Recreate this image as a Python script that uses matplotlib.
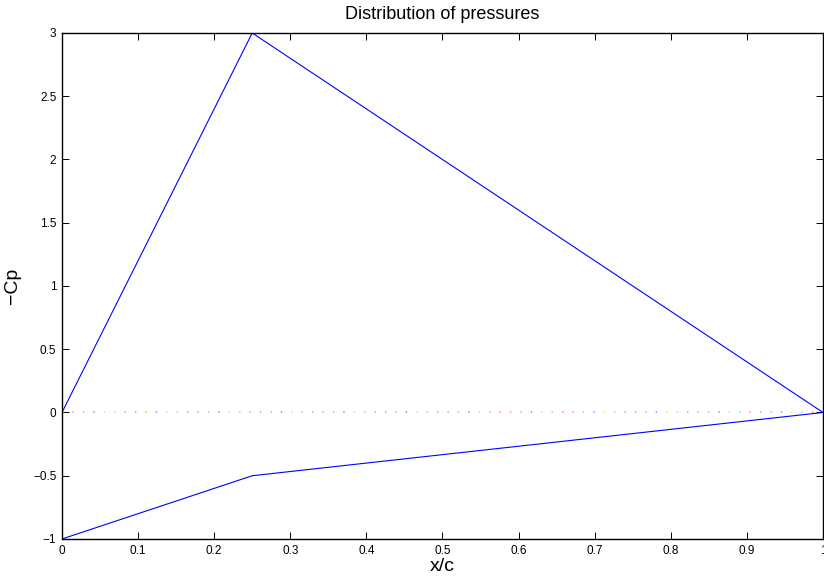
import matplotlib
matplotlib.use("Agg")
import matplotlib.pyplot as plt

# pressure distribution (upper then lower surface, closed loop)
x_c = [0.0, 0.25, 1.0, 0.25, 0.0]
minus_cp = [0.0, 3.0, 0.0, -0.5, -1.0]

# chord line at -Cp = 0
chord_x = [0.0, 1.0]
chord_y = [0.0, 0.0]

xticks = [0, 0.1, 0.2, 0.3, 0.4, 0.5, 0.6, 0.7, 0.8, 0.9, 1]
yticks = [-1, -0.5, 0, 0.5, 1, 1.5, 2, 2.5, 3]
ytick_labels = ["\u22121", "\u22120.5", "0", "0.5", "1", "1.5", "2", "2.5", "3"]

plt.rcParams["font.family"] = ["Liberation Sans", "DejaVu Sans"]

fig = plt.figure(figsize=(8.24, 5.83), dpi=100)
ax = fig.add_axes([0.0752, 0.0755, 0.9236, 0.8679])

# faint multicoloured dotted chord line
dot_colors = ["#ff9999", "#99e0e0", "#e0e099", "#9999ff", "#99e099", "#e099e0"]
for k, c in enumerate(dot_colors):
    ax.plot(chord_x, chord_y, color=c, lw=1.3,
            linestyle=(k * 7.5 / 1.3, (1 / 1.3, (6 * 7.5 - 1) / 1.3)))

ax.plot(x_c, minus_cp, color="#0000ff", lw=0.8)

ax.set_xlim(0, 1)
ax.set_ylim(-1, 3)
ax.set_xticks(xticks)
ax.set_xticklabels([f"{t:g}" for t in xticks])
ax.set_yticks(yticks)
ax.set_yticklabels(ytick_labels)
ax.tick_params(direction="in", length=5, width=0.7, labelsize=8.5,
               top=True, right=True, pad=4)
for s in ax.spines.values():
    s.set_linewidth(1.0)

ax.set_xlabel("x/c", fontsize=14, labelpad=1)
ax.set_ylabel("\u2212Cp", fontsize=14, labelpad=9)
ax.set_title("Distribution of pressures", fontsize=13, pad=10)

fig.savefig("out.png", dpi=100)
